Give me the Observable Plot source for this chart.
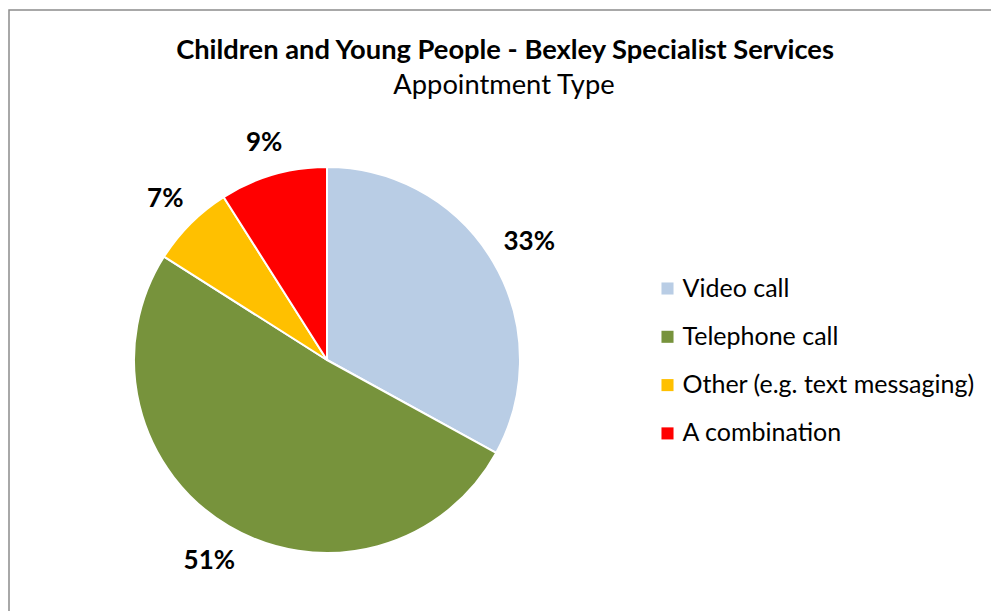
<!DOCTYPE html>
<html><head><meta charset="utf-8">
<script src="https://cdn.jsdelivr.net/npm/d3@7"></script>
<script src="https://cdn.jsdelivr.net/npm/@observablehq/plot@0.6"></script>
<style>
body{margin:0;background:#fff;overflow:hidden}
#chart{position:relative;width:991px;height:611px}
</style>
</head><body><div id="chart"></div>
<script>
// ---- data ----
const categories = ["Video call", "Telephone call", "Other (e.g. text messaging)", "A combination"];
const values = [33, 51, 7, 9];
const valueLabels = ["33%", "51%", "7%", "9%"];
const colors = ["#B9CDE5", "#77933C", "#FFC000", "#FF0000"];
const title = "Children and Young People - Bexley Specialist Services";
const subtitle = "Appointment Type";

// ---- layout ----
const W = 991, H = 611, CX = 327, CY = 360, R = 193;
const FONT = "Lato, 'Open Sans', sans-serif";
const LEG_X = 667, LEG_Y0 = 288, LEG_DY = 48.3;

const data = categories.map((c, i) => ({category: c, value: values[i], label: valueLabels[i], i}));
const arcs = d3.pie().sort(null).value(d => d.value)(data);

// label positions: outside end of each slice
const LBL_W = s => s.length * 13, LBL_H = 26, GAP = 18;
const labelData = arcs.map(a => {
  const m = (a.startAngle + a.endAngle) / 2;
  const dx = Math.sin(m), dy = -Math.cos(m);
  const ext = LBL_W(a.data.label) / 2 * Math.abs(dx) + LBL_H / 2 * Math.abs(dy);
  const d = R + GAP + ext;
  return {label: a.data.label, x: CX + d * dx, y: CY + d * dy};
});

const legendData = data.map((d, i) => ({category: d.category, x: LEG_X, y: LEG_Y0 + i * LEG_DY}));

function pieMark(index, scales) {
  const g = d3.create("svg:g");
  const cx = scales.x(CX), cy = scales.y(CY);
  const r = scales.x(CX + R) - scales.x(CX);
  const arcGen = d3.arc().innerRadius(0).outerRadius(r);
  g.selectAll("path").data(arcs).join("path")
    .attr("transform", `translate(${cx},${cy})`)
    .attr("d", arcGen)
    .attr("fill", a => scales.color ? scales.color(a.data.category) : colors[a.index])
    .attr("stroke", "#fff")
    .attr("stroke-width", 2)
    .attr("stroke-linejoin", "round");
  return g.node();
}

const chart = Plot.plot({
  width: W, height: H,
  margin: 0,
  style: {fontFamily: FONT, background: "#fff"},
  x: {domain: [0, W], range: [0, W], axis: null},
  y: {domain: [0, H], range: [0, H], axis: null},
  color: {domain: categories, range: colors},
  marks: [
    Plot.frame({stroke: "#8c8c8c", strokeWidth: 1.5, insetLeft: 8.5, insetTop: 9.5, insetRight: -10, insetBottom: -10}),
    pieMark,
    Plot.text(labelData, {x: "x", y: "y", text: "label", fontSize: 26, fontWeight: "bold", fill: "#000"}),
    Plot.dot(legendData, {x: d => d.x, y: "y", fill: "category", symbol: "square", r: 6.8, stroke: null}),
    Plot.text(legendData, {x: d => d.x + 15, y: "y", text: "category", textAnchor: "start", fontSize: 25, fill: "#000"}),
    Plot.text([title], {x: () => 504.5, y: () => 50, text: d => d, fontSize: 27.3, fontWeight: "bold", fill: "#000"}),
    Plot.text([subtitle], {x: () => 503.5, y: () => 85, text: d => d, fontSize: 27.3, fill: "#000"})
  ]
});
document.getElementById("chart").appendChild(chart);
</script>
</body></html>
